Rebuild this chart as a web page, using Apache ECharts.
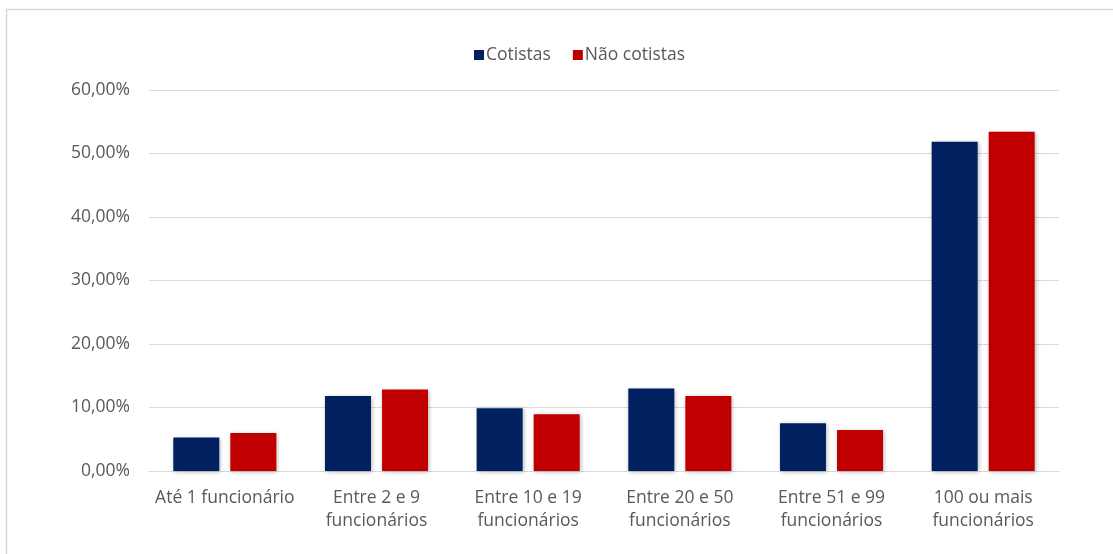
<!DOCTYPE html>
<html>
<head>
<meta charset="utf-8">
<script src="https://cdn.jsdelivr.net/npm/echarts@6/dist/echarts.min.js"></script>
<style>
  html, body { margin: 0; padding: 0; background: #ffffff; }
  #chart { width: 1113px; height: 554px; }
</style>
</head>
<body>
<div id="chart"></div>
<script>
// Company size categories (number of employees)
const categories = [
  'Até 1 funcionário',
  'Entre 2 e 9\nfuncionários',
  'Entre 10 e 19\nfuncionários',
  'Entre 20 e 50\nfuncionários',
  'Entre 51 e 99\nfuncionários',
  '100 ou mais\nfuncionários'
];

// Share of respondents per group, in percent
const cotistas = [5.27, 11.82, 9.88, 12.99, 7.52, 51.85];
const naoCotistas = [6.00, 12.83, 8.93, 11.82, 6.46, 53.43];

const seriesNames = ['Cotistas', 'Não cotistas'];
const seriesColors = ['#002060', '#C00000'];

const FONT = '"Open Sans", "Noto Sans", sans-serif';
const FONT_SIZE = 17.5;
const TEXT_COLOR = '#595959';

const chart = echarts.init(document.getElementById('chart'));

const barShadow = {
  shadowBlur: 4,
  shadowColor: 'rgba(0,0,0,0.28)',
  shadowOffsetX: 1,
  shadowOffsetY: 1
};

chart.setOption({
  animation: false,
  backgroundColor: '#ffffff',
  graphic: [{
    type: 'rect',
    shape: { x: 6.5, y: 9.5, width: 1200, height: 600 },
    style: { fill: 'none', stroke: '#d9d9d9', lineWidth: 1.5 },
    silent: true,
    z: -1
  }],
  legend: {
    data: seriesNames,
    left: 469,
    top: 41,
    itemWidth: 10,
    itemHeight: 10,
    itemGap: 22,
    icon: 'rect',
    textStyle: { fontFamily: FONT, fontSize: FONT_SIZE, color: TEXT_COLOR, padding: [0, 0, 0, -3] }
  },
  grid: { left: 149, right: 54, top: 90, bottom: 83, containLabel: false },
  xAxis: {
    type: 'category',
    data: categories,
    axisLine: { show: true, lineStyle: { color: '#d9d9d9', width: 1 } },
    axisTick: { show: false },
    axisLabel: {
      fontFamily: FONT,
      fontSize: FONT_SIZE,
      color: TEXT_COLOR,
      lineHeight: 23.5,
      margin: 15,
      interval: 0
    }
  },
  yAxis: {
    type: 'value',
    min: 0,
    max: 60,
    interval: 10,
    axisLine: { show: false },
    axisTick: { show: false },
    splitLine: { lineStyle: { color: '#d9d9d9', width: 1 } },
    axisLabel: {
      fontFamily: FONT,
      fontSize: FONT_SIZE,
      color: TEXT_COLOR,
      margin: 19,
      formatter: v => v.toFixed(2).replace('.', ',') + '%'
    }
  },
  series: [
    {
      name: seriesNames[0],
      type: 'bar',
      data: cotistas,
      barWidth: 46,
      barGap: '24%',
      itemStyle: Object.assign({ color: seriesColors[0] }, barShadow)
    },
    {
      name: seriesNames[1],
      type: 'bar',
      data: naoCotistas,
      barWidth: 46,
      barGap: '24%',
      itemStyle: Object.assign({ color: seriesColors[1] }, barShadow)
    }
  ]
});
</script>
</body>
</html>
